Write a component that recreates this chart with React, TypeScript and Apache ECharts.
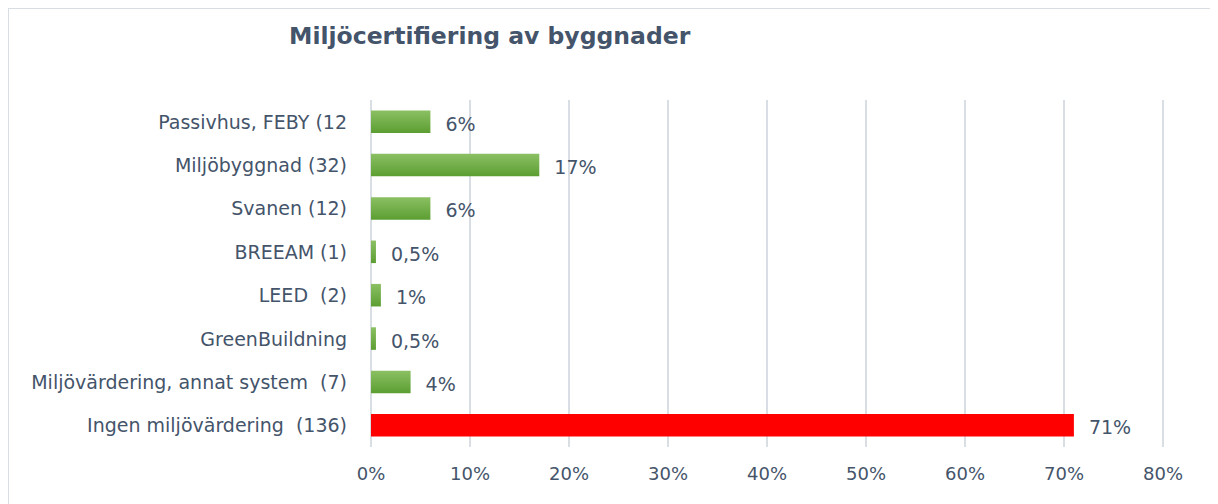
import React, { useEffect, useRef } from "react";
import * as echarts from "echarts";

const categories = [
  "Passivhus, FEBY (12",
  "Miljöbyggnad (32)",
  "Svanen (12)",
  "BREEAM (1)",
  "LEED  (2)",
  "GreenBuildning",
  "Miljövärdering, annat system  (7)",
  "Ingen miljövärdering  (136)",
];
const values = [6, 17, 6, 0.5, 1, 0.5, 4, 71];
const highlighted = "Ingen miljövärdering  (136)";
const xTicks = [0, 10, 20, 30, 40, 50, 60, 70, 80];

const TEXT = "#44546A";
const FONT = "'DejaVu Sans', sans-serif";

export default function App() {
  const ref = useRef<HTMLDivElement>(null);
  useEffect(() => {
    if (!ref.current) return;
    const chart = echarts.init(ref.current, null, { renderer: "svg" });
    const green = new echarts.graphic.LinearGradient(0, 0, 0, 1, [
      { offset: 0, color: "#8BC063" },
      { offset: 1, color: "#5C9E32" },
    ]);
    chart.setOption({
      animation: false,
      backgroundColor: "#ffffff",
      textStyle: { fontFamily: FONT },
      title: {
        text: "Miljöcertifiering av byggnader",
        left: 275,
        top: 10,
        textStyle: { fontFamily: FONT, fontSize: 23.5, fontWeight: "bold", color: TEXT },
      },
      grid: { left: 362, right: 47, top: 91, bottom: 57, containLabel: false },
      xAxis: {
        type: "value",
        min: xTicks[0],
        max: xTicks[xTicks.length - 1],
        interval: 10,
        axisLine: { show: false },
        axisTick: { show: false },
        splitLine: { show: true, lineStyle: { color: "#D9DDE4", width: 2 } },
        axisLabel: {
          color: TEXT,
          fontSize: 18,
          fontFamily: FONT,
          margin: 17,
          formatter: (v: number) => `${v}%`,
        },
      },
      yAxis: {
        type: "category",
        data: categories,
        inverse: true,
        axisLine: { show: false },
        axisTick: { show: false },
        splitLine: { show: false },
        axisLabel: { color: TEXT, fontSize: 19, fontFamily: FONT, margin: 24 },
      },
      series: [
        {
          type: "bar",
          data: values,
          barWidth: "52%",
          itemStyle: {
            color: (p: any) => (p.name === highlighted ? "#FF0000" : green),
          },
          label: {
            show: true,
            position: "right",
            distance: 15,
            color: TEXT,
            fontSize: 19,
            fontFamily: FONT,
            offset: [0, 2],
            formatter: (p: any) => `${String(p.value).replace(".", ",")}%`,
          },
        },
      ],
    });
    return () => chart.dispose();
  }, []);
  return (
    <div
      ref={ref}
      style={{
        width: 1203,
        height: 496,
        boxSizing: "border-box",
        borderTop: "1px solid #D9DDE4",
        borderLeft: "1px solid #D9DDE4",
        borderRight: "1px solid #D9DDE4",
      }}
    />
  );
}
